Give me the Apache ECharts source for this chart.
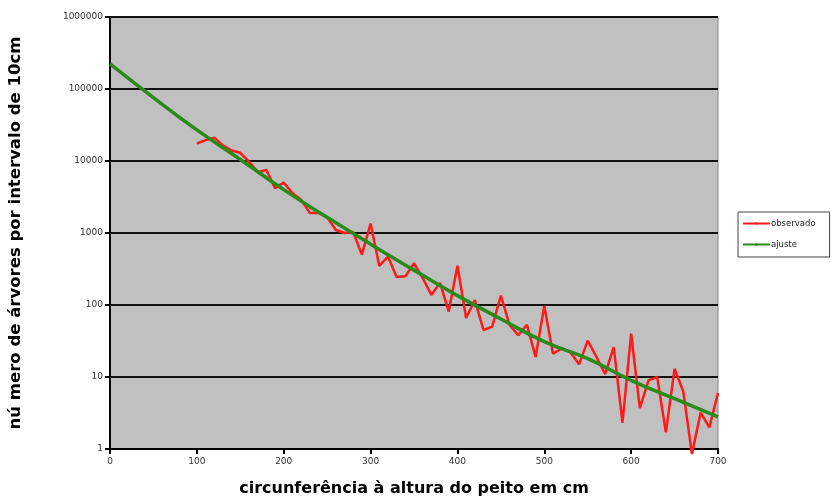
<!DOCTYPE html>
<html>
<head>
<meta charset="utf-8">
<script src="https://cdn.jsdelivr.net/npm/echarts@6/dist/echarts.min.js"></script>
<style>
  html, body { margin: 0; padding: 0; background: #fff; }
  #chart { width: 831px; height: 497px; }
</style>
</head>
<body>
<div id="chart"></div>
<script>
// circunferência (cm) dos valores observados
const circObs = [100, 110, 120, 130, 140, 150, 160, 170, 180, 190,
  200, 210, 220, 230, 240, 250, 260, 270, 280, 290,
  300, 310, 320, 330, 340, 350, 360, 370, 380, 390,
  400, 410, 420, 430, 440, 450, 460, 470, 480, 490,
  500, 510, 520, 530, 540, 550, 560, 570, 580, 590,
  600, 610, 620, 630, 640, 650, 660, 670, 680, 690, 700];
const observado = [17500, 19500, 21000, 16500, 14000, 13000, 9800, 7000, 7500, 4200,
  5000, 3600, 2900, 1900, 1900, 1650, 1100, 1000, 1030, 500,
  1350, 350, 470, 245, 250, 380, 237, 138, 203, 81,
  350, 66, 117, 45, 50, 135, 53, 38, 53, 19,
  97, 21, 25, 22, 15, 32, 19, 11, 26, 2.3,
  40, 3.7, 9, 10, 1.7, 13, 6.3, 0.85, 3.2, 2.0, 6];

// curva ajustada
const circAjuste = [0, 50, 100, 150, 200, 250, 300, 350, 400, 450, 500, 550, 600, 650, 700];
const ajuste = [224000, 76000, 27000, 10500, 4000, 1650, 700, 305, 135, 64, 31, 18, 9, 5, 2.8];

const chart = echarts.init(document.getElementById('chart'));

const tickFont = { fontFamily: 'DejaVu Sans, sans-serif', fontSize: 9, color: '#333' };
const titleFont = { fontFamily: 'DejaVu Sans, sans-serif', fontSize: 16.5, fontWeight: 'bold', color: '#000' };

const option = {
  animation: false,
  grid: {
    left: 110,
    right: 113,
    top: 17,
    bottom: 48,
    show: true,
    backgroundColor: '#c0c0c0',
    borderColor: '#8a8a8a',
    borderWidth: 1,
    outerBoundsMode: 'none'
  },
  legend: {
    orient: 'vertical',
    left: 738,
    top: 212,
    padding: [7, 14, 8, 4],
    itemGap: 12,
    itemWidth: 27,
    itemHeight: 3,
    borderColor: '#444',
    borderWidth: 1,
    textStyle: { fontFamily: 'DejaVu Sans, sans-serif', fontSize: 8.5, color: '#222', padding: [0, 0, 0, -4] },
    data: ['observado', 'ajuste']
  },
  xAxis: {
    type: 'value',
    min: 0,
    max: 700,
    interval: 100,
    name: 'circunferência à altura do peito em cm',
    nameLocation: 'middle',
    nameGap: 32,
    nameTextStyle: Object.assign({}, titleFont, { fontSize: 16 }),
    axisLine: { lineStyle: { color: '#000', width: 2 } },
    axisTick: { show: true, length: 5, lineStyle: { color: '#000', width: 2 } },
    axisLabel: Object.assign({ margin: 8 }, tickFont),
    splitLine: { show: false }
  },
  yAxis: {
    type: 'log',
    logBase: 10,
    min: 1,
    max: 1000000,
    name: 'nú mero de árvores por intervalo de 10cm',
    nameLocation: 'middle',
    nameGap: 86,
    nameRotate: 90,
    nameTextStyle: titleFont,
    axisLine: { lineStyle: { color: '#000', width: 2 } },
    axisTick: { show: true, length: 5, lineStyle: { color: '#000', width: 2 } },
    axisLabel: Object.assign({ margin: 7, formatter: v => String(Math.round(v)) }, tickFont),
    splitLine: { show: true, lineStyle: { color: '#111', width: 2 } }
  },
  series: [
    {
      name: 'observado',
      type: 'line',
      symbol: 'none',
      clip: false,
      itemStyle: { color: '#ff1a1a' },
      lineStyle: { color: '#ff1a1a', width: 2.5 },
      data: circObs.map((c, i) => [c, observado[i]]),
      z: 3
    },
    {
      name: 'ajuste',
      type: 'line',
      symbol: 'none',
      smooth: true,
      itemStyle: { color: '#2a8a1a' },
      lineStyle: { color: '#2a8a1a', width: 3.5 },
      data: circAjuste.map((c, i) => [c, ajuste[i]]),
      z: 4
    }
  ]
};

chart.setOption(option);
</script>
</body>
</html>
